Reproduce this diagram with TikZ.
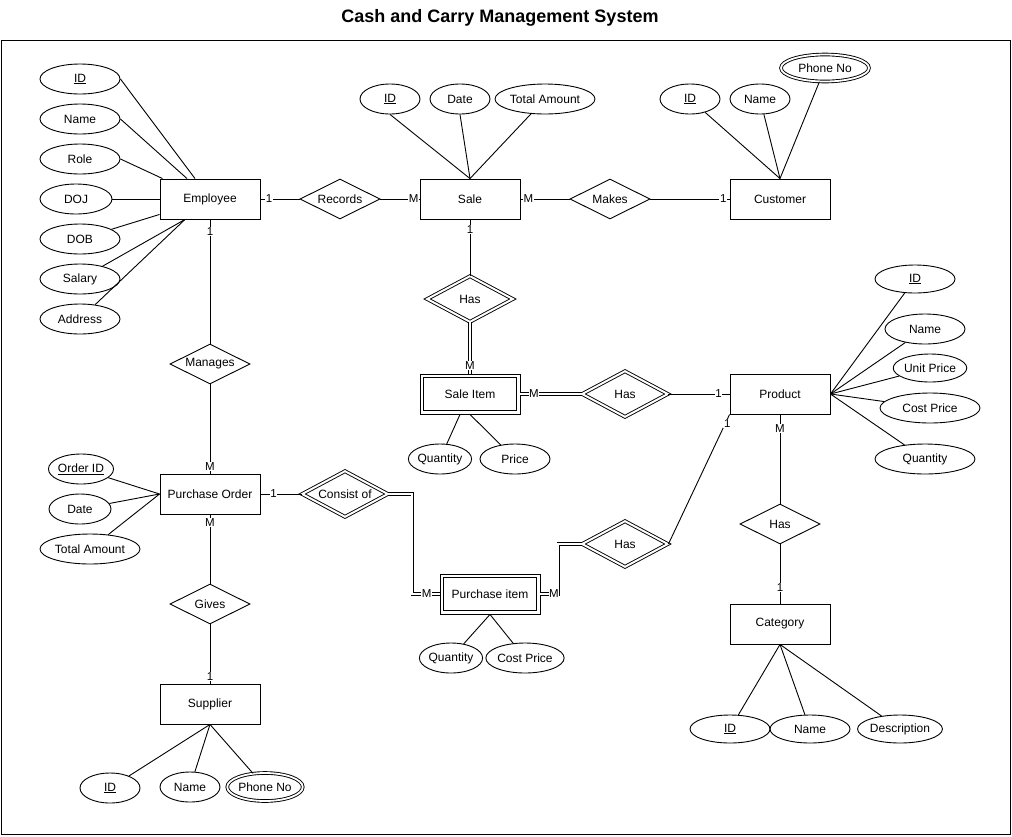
\documentclass[tikz,border=0pt]{standalone}
\usepackage{fontspec}
\setmainfont{Liberation Sans}
\usetikzlibrary{shapes.geometric}
\begin{document}
\begin{tikzpicture}[x=1pt,y=-1pt,
  every node/.style={font=\fontsize{12}{14}\selectfont},
  ent/.style={draw, line width=0.9pt, minimum width=100pt, minimum height=40pt, inner sep=0pt},
  rel/.style={draw, diamond, aspect=2, line width=0.9pt, minimum width=80pt, minimum height=40pt, inner sep=0pt},
  wrel/.style={rel, double, double distance=2pt, minimum width=86pt, minimum height=46pt},
  attr/.style={draw, ellipse, line width=0.9pt, minimum width=80pt, minimum height=30pt, inner sep=0pt},
  mattr/.style={attr, double, double distance=1.8pt},
  lab/.style={fill=white, inner sep=0.6pt, font=\fontsize{11.5}{13}\selectfont},
  conn/.style={line width=0.9pt},
  dconn/.style={line width=0.9pt, double, double distance=2pt}]
\useasboundingbox (0,0) rectangle (1012,836);
\draw[line width=0.9pt] (1,40) rectangle (1010,834);
\node[font=\bfseries\fontsize{18}{21}\selectfont] (title) at (500,18) {Cash and Carry Management System};

% entities
\node[ent] (emp) at (210,199) {Employee};
\node[ent] (sale) at (470,199) {Sale};
\node[ent] (cust) at (780,199) {Customer};
\node[ent] (prod) at (780,394) {Product};
\node[ent] (cat) at (780,624) {Category};
\node[ent] (po) at (210,494) {Purchase Order};
\node[ent] (sup) at (210,704) {Supplier};
\node[ent] (si) at (470,394) {Sale Item};
\draw[conn] ([xshift=4pt,yshift=-4pt]si.north west) rectangle ([xshift=-4pt,yshift=4pt]si.south east);
\node[ent] (pi) at (490,594) {Purchase item};
\draw[conn] ([xshift=4pt,yshift=-4pt]pi.north west) rectangle ([xshift=-4pt,yshift=4pt]pi.south east);

% relationships
\node[rel] (rec) at (340,199) {Records};
\node[rel] (makes) at (610,199) {Makes};
\node[wrel] (has1) at (470,299) {Has};
\node[wrel] (has2) at (625,394) {Has};
\node[rel] (man) at (210,364) {Manages};
\node[wrel] (cons) at (345,494) {Consist of};
\node[wrel] (has3) at (625,544) {Has};
\node[rel] (gives) at (210,604) {Gives};
\node[rel] (has4) at (780,524) {Has};

% employee attributes
\node[attr] (eid) at (80,79) {\underline{ID}};
\node[attr] (ename) at (80,119) {Name};
\node[attr] (erole) at (80,159) {Role};
\node[attr, minimum width=72pt] (edoj) at (76,199) {DOJ};
\node[attr] (edob) at (80,239) {DOB};
\node[attr] (esal) at (80,279) {Salary};
\node[attr] (eaddr) at (80,319) {Address};
\draw[conn] (eid.east) -- ([xshift=-15pt]emp.north);
\draw[conn] (ename.east) -- ([xshift=-23pt]emp.north);
\draw[conn] (erole.east) -- ([xshift=3pt]emp.north west);
\draw[conn] (edoj) -- (emp.west);
\draw[conn] (edob) -- ([yshift=5pt]emp.south west);
\draw[conn] (esal) -- ([xshift=-25pt]emp.south);
\draw[conn] (eaddr) -- ([xshift=-25pt]emp.south);

% sale attributes
\node[attr, minimum width=60pt] (sid) at (390,99) {\underline{ID}};
\node[attr, minimum width=60pt] (sdate) at (460,99) {Date};
\node[attr, minimum width=100pt] (stot) at (545,99) {Total Amount};
\draw[conn] (sid.south) -- (sale.north);
\draw[conn] (sdate.south) -- (sale.north);
\draw[conn] (stot) -- (sale.north);

% customer attributes
\node[attr, minimum width=60pt] (cid) at (690,99) {\underline{ID}};
\node[attr, minimum width=60pt] (cname) at (760,99) {Name};
\node[mattr, minimum width=88pt, minimum height=27pt] (cph) at (825,68) {Phone No};
\draw[conn] (cid) -- (cust.north);
\draw[conn] (cname) -- (cust.north);
\draw[conn] (cph) -- (cust.north);

% product attributes
\node[attr, minimum height=28pt] (pid) at (915,279) {\underline{ID}};
\node[attr] (pname) at (925,329) {Name};
\node[attr, minimum width=70pt, minimum height=28pt] (pup) at (930,368) {Unit Price};
\node[attr, minimum width=100pt] (pcp) at (930,408) {Cost Price};
\node[attr, minimum width=100pt] (pq) at (925,459) {Quantity};
\draw[conn] (pid) -- (prod.east);
\draw[conn] (pname) -- (prod.east);
\draw[conn] (pup) -- (prod.east);
\draw[conn] (pcp) -- (prod.east);
\draw[conn] (pq) -- (prod.east);

% sale item attributes
\node[attr, minimum width=60pt] (siq) at (440,459) {Quantity};
\node[attr, minimum width=70pt] (sip) at (515,459) {Price};
\draw[conn] (siq) -- ([xshift=-10pt]si.south);
\draw[conn] (sip) -- (si.south);

% purchase item attributes
\node[attr, minimum width=62pt] (piq) at (451,658) {Quantity};
\node[attr, minimum width=70pt] (picp) at (525,658) {Cost Price};
\draw[conn] (piq) -- (pi.south);
\draw[conn] (picp) -- (pi.south);

% purchase order attributes
\node[attr, minimum width=62pt] (poid) at (81,469) {\underline{Order ID}};
\node[attr, minimum width=62pt] (podate) at (80,509) {Date};
\node[attr, minimum width=100pt] (potot) at (90,549) {Total Amount};
\draw[conn] (poid) -- (po.west);
\draw[conn] (podate) -- (po.west);
\draw[conn] (potot) -- (po.west);

% category attributes
\node[attr, minimum height=28pt] (catid) at (730,729) {\underline{ID}};
\node[attr, minimum height=28pt] (catname) at (810,729) {Name};
\node[attr, minimum height=28pt] (catdesc) at (900,729) {Description};
\draw[conn] (catid) -- (cat.south);
\draw[conn] (catname) -- (cat.south);
\draw[conn] (catdesc) -- (cat.south);

% supplier attributes
\node[attr, minimum width=60pt] (supid) at (110,788) {\underline{ID}};
\node[attr, minimum width=60pt] (supname) at (190,787) {Name};
\node[mattr, minimum width=68pt, minimum height=28pt] (supph) at (265,787) {Phone No};
\draw[conn] (supid) -- (sup.south);
\draw[conn] (supname) -- (sup.south);
\draw[conn] (supph) -- (sup.south);

% relationship connectors
\draw[conn] (emp.east) -- node[lab, pos=0.22] {1} (rec.west);
\draw[conn] (rec.east) -- node[lab, pos=0.85] {M} (sale.west);
\draw[conn] (sale.east) -- node[lab, pos=0.16] {M} (makes.west);
\draw[conn] (makes.east) -- node[lab, pos=0.92] {1} (cust.west);
\draw[conn] (sale.south) -- node[lab, pos=0.18] {1} (has1.north);
\draw[dconn] (has1.south) -- node[lab, pos=0.84] {M} (si.north);
\draw[dconn] (si.east) -- node[lab, pos=0.22] {M} (has2.west);
\draw[conn] (has2.east) -- node[lab, pos=0.82] {1} (prod.west);
\draw[conn] (emp.south) -- node[lab, pos=0.1] {1} (man.north);
\draw[conn] (man.south) -- node[lab, pos=0.92] {M} (po.north);
\draw[conn] (po.east) -- node[lab, pos=0.32] {1} (cons.west);
\draw[dconn] (cons.east) -- ++(24,0) |- node[lab, pos=0.76] {M} (pi.west);
\draw[dconn] (pi.east) -- node[lab, pos=0.75] {M} ++(18,0) |- (has3.west);
\draw[conn] (has3.east) -- node[lab, pos=0.93, xshift=2pt] {1} (prod.south west);
\draw[conn] (prod.south) -- node[lab, pos=0.16] {M} (has4.north);
\draw[conn] (has4.south) -- node[lab, pos=0.73] {1} (cat.north);
\draw[conn] (po.south) -- node[lab, pos=0.11] {M} (gives.north);
\draw[conn] (gives.south) -- node[lab, pos=0.88] {1} (sup.north);
\end{tikzpicture}
\end{document}
